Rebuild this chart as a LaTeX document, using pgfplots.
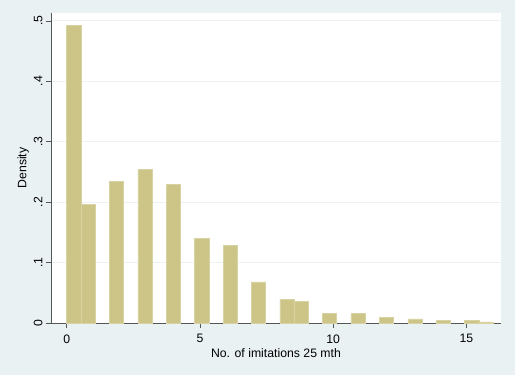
\documentclass[border=0pt]{standalone}
\usepackage{fontspec}
\setmainfont{Liberation Sans}
\usepackage{pgfplots}
\pgfplotsset{compat=1.18}
\definecolor{bgc}{RGB}{234,241,243}
\definecolor{barc}{RGB}{204,197,135}
\definecolor{barl}{RGB}{216,211,165}
\definecolor{axc}{RGB}{85,85,85}
\definecolor{gridc}{RGB}{236,242,244}
\begin{document}
\begin{tikzpicture}
\fill[bgc] (-51bp,-52bp) rectangle (464bp,323bp);
\begin{axis}[
  scale only axis, width=450bp, height=310bp,
  xmin=-0.59, xmax=16.3, ymin=0, ymax=0.513,
  axis background/.style={fill=white},
  axis lines=left,
  axis line style={-, draw=axc, line width=0.9pt},
  every outer x axis line/.append style={-},
  every outer y axis line/.append style={-},
  tick align=outside,
  major tick length=5bp,
  tick style={draw=axc, line width=0.7pt},
  xtick={0,5,10,15},
  ytick={0,0.1,0.2,0.3,0.4,0.5},
  yticklabels={0,.1,.2,.3,.4,.5},
  /pgf/number format/assume math mode=true,
  ticklabel style={font=\fontsize{12.3}{14}\selectfont},
  yticklabel style={rotate=90, anchor=south},
  xticklabel style={yshift=-3bp},
  ymajorgrids,
  grid style={draw=gridc, line width=1pt},
  xlabel={No. of imitations 25 mth},
  ylabel={Density},
  label style={font=\fontsize{12.3}{14}\selectfont},
  xlabel style={yshift=1bp},
  ylabel style={yshift=-2bp},
  clip=false,
]
\addplot[ybar, bar width=0.5333, fill=barc, draw=barl, line width=0.5pt] coordinates {
 (0.2667,0.492) (0.8,0.196) (1.8667,0.234) (2.9333,0.254) (4.0,0.230)
 (5.0667,0.140) (6.1333,0.129) (7.2,0.068) (8.2667,0.0396) (8.8,0.036)
 (9.8667,0.0155) (10.9333,0.0155) (12.0,0.0088) (13.0667,0.0070)
 (14.1333,0.0038) (15.2,0.0040) (15.7333,0.0020)
};
\end{axis}
\end{tikzpicture}
\end{document}
